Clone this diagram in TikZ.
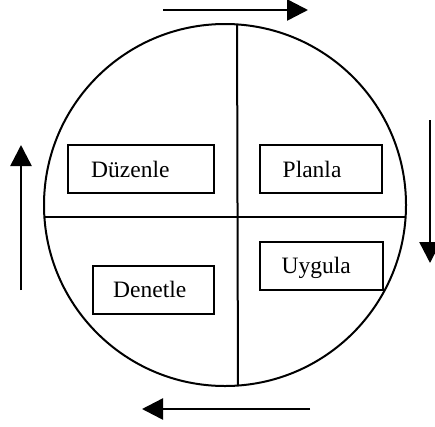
\documentclass[tikz,border=0pt]{standalone}
\usepackage{fontspec}
\setmainfont{Liberation Serif}
\usetikzlibrary{arrows.meta}
\tikzset{
  outline/.style={line width=2pt},
  phasebox/.style={draw, line width=2pt, rectangle, inner sep=0pt},
  phasetext/.style={anchor=base west, inner sep=0pt, font=\fontsize{23.5}{28}\selectfont},
  flow/.style={line width=2.5pt, -{Triangle[length=21pt,width=21pt]}}
}
\begin{document}
\begin{tikzpicture}[x=1pt,y=-1pt]
\useasboundingbox (0,0) rectangle (435,426);
% the cycle wheel and its two dividers
\node[outline, draw, circle, minimum size=362pt, inner sep=0pt] (wheel) at (225,205) {};
\begin{scope}
  \clip (225,205) circle (181pt);
  \draw[outline] (30,217) -- (420,217);
  \draw[outline] (237,10) -- (238,400);
\end{scope}
% quadrant boxes
\node[phasebox, minimum width=146pt, minimum height=48pt] (duzbox) at (141,169) {};
\node[phasebox, minimum width=122pt, minimum height=48pt] (plabox) at (321,169) {};
\node[phasebox, minimum width=123pt, minimum height=48pt] (uygbox) at (321.5,266) {};
\node[phasebox, minimum width=121pt, minimum height=48pt] (denbox) at (153.5,290) {};
\node[phasetext] (duz) at (91,177) {Düzenle};
\node[phasetext] (pla) at (282.5,177) {Planla};
\node[phasetext] (uyg) at (281.5,273) {Uygula};
\node[phasetext] (den) at (113,297) {Denetle};
% direction of the cycle
\coordinate (topA) at (163,10);
\coordinate (topB) at (308,10);
\coordinate (rgtA) at (430,120);
\coordinate (rgtB) at (430,263);
\coordinate (botA) at (310,409);
\coordinate (botB) at (142,409);
\coordinate (lftA) at (21,290);
\coordinate (lftB) at (21,145);
\draw[flow] (topA) -- (topB);
\draw[flow] (rgtA) -- (rgtB);
\draw[flow] (botA) -- (botB);
\draw[flow] (lftA) -- (lftB);
\end{tikzpicture}
\end{document}
